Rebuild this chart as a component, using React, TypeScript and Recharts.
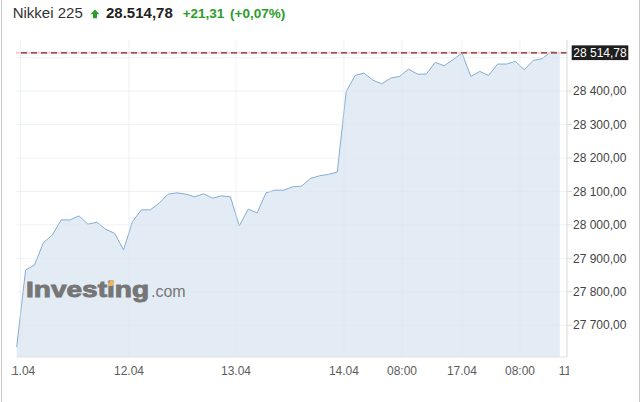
import { Area, AreaChart, ReferenceLine, XAxis, YAxis } from "recharts";

// Nikkei 225, one value per bar
const prices = [
  27635, 27865, 27880, 27947, 27970, 28015, 28015, 28027, 28002, 28008, 27987, 27975, 27925, 28010, 28045, 28045,
  28065, 28092, 28096, 28092, 28084, 28093, 28080, 28087, 28084, 27997, 28047, 28036, 28096, 28104, 28104, 28114,
  28116, 28139, 28147, 28151, 28158, 28398, 28447, 28454, 28433, 28422, 28439, 28444, 28466, 28451, 28451, 28486,
  28476, 28494, 28514, 28444, 28459, 28447, 28481, 28481, 28489, 28464, 28492, 28497, 28518, 28514.78,
];

const xTicks = [0.45, 12.61, 24.63, 36.75, 43.27, 50.0, 56.52, 62.5];
const xTickLabels = ["11.04", "12.04", "13.04", "14.04", "08:00", "17.04", "08:00", "11:00"];
const yTicks = [27700, 27800, 27900, 28000, 28100, 28200, 28300, 28400];
const yGrid = [...yTicks, 28500];
const lastPrice = 28514.78;
const change = "+21,31";
const changePct = "(+0,07%)";

const data = prices.map((v, i) => ({ i, v }));

const fmt = (v: number) => {
  const [int, dec] = v.toFixed(2).split(".");
  return int.replace(/\B(?=(\d{3})+(?!\d))/g, " ") + "," + dec;
};

const GRID = "#dfe5ec";
const GREEN = "#2a9d2a";

function XTick(props: any) {
  const { x, y, payload, index } = props;
  const idx = xTicks.indexOf(payload.value);
  return (
    <g>
      {index === 0 && (
        <defs>
          <clipPath id="xclip">
            <rect x={11.5} y={350} width={557.5} height={52} />
          </clipPath>
        </defs>
      )}
      <text x={x} y={y + 18} textAnchor="middle" fontSize={12} fill="#5c5c5c" clipPath="url(#xclip)">
        {xTickLabels[idx]}
      </text>
    </g>
  );
}

function PriceTag(props: any) {
  const vb = props.viewBox;
  const x = vb.x + vb.width + 4.7;
  const y = vb.y;
  return (
    <g>
      <rect x={x} y={y - 7.4} width={56.6} height={14.7} fill="#1e1e1e" />
      <text x={x + 28.3} y={y + 4.3} textAnchor="middle" fontSize={12} fill="#fff">
        {fmt(lastPrice)}
      </text>
    </g>
  );
}

export default function App() {
  return (
    <div
      style={{
        position: "absolute",
        left: 0,
        top: 0,
        width: 643,
        height: 402,
        background: "#fff",
        fontFamily: "Arial, 'Liberation Sans', sans-serif",
      }}
    >
      <AreaChart width={643} height={402} data={data} margin={{ top: 40, right: 0, bottom: 0, left: 16.7 }}>
        <XAxis
          type="number"
          dataKey="i"
          domain={[0, 61.8]}
          ticks={xTicks}
          interval={0}
          tickLine={false}
          tickSize={0}
          tickMargin={0}
          height={45}
          axisLine={{ stroke: "#e2e2e2" }}
          tick={<XTick />}
        />
        <YAxis
          orientation="right"
          width={76}
          domain={[27605, 28553]}
          ticks={yTicks}
          interval={0}
          tickFormatter={fmt}
          tickSize={5}
          tickMargin={1}
          tickLine={{ stroke: "#dcdcdc" }}
          axisLine={{ stroke: "#d9d9d9" }}
          tick={{ fontSize: 12, fill: "#444" }}
        />
        <Area
          type="linear"
          dataKey="v"
          stroke="#86acd1"
          strokeWidth={1}
          fill="#e3ecf5"
          fillOpacity={1}
          dot={false}
          activeDot={false}
          isAnimationActive={false}
        />
        {yGrid.map((t) => (
          <ReferenceLine key={"h" + t} y={t} stroke={GRID} strokeOpacity={0.55} />
        ))}
        {xTicks.map((t) => (
          <ReferenceLine key={"v" + t} x={t} stroke={GRID} strokeOpacity={0.55} />
        ))}
        <ReferenceLine y={lastPrice} stroke="#f4d2d2" strokeWidth={2} />
        <ReferenceLine y={lastPrice} stroke="#6e3030" strokeWidth={1.2} strokeDasharray="6 4" label={<PriceTag />} />
      </AreaChart>

      <svg
        width={643}
        height={402}
        style={{ position: "absolute", left: 0, top: 0, pointerEvents: "none" }}
      >
        <line x1={1.5} y1={0} x2={1.5} y2={402} stroke="#c8c8c8" />
        <line x1={639.5} y1={0} x2={639.5} y2={402} stroke="#c8c8c8" />

        <text x={12.7} y={18.3} fontSize={15} fill="#333">
          Nikkei 225
        </text>
        <polygon points="95,9.5 99.4,14.2 97,14.2 97,18.3 93,18.3 93,14.2 90.6,14.2" fill={GREEN} />
        <text x={106} y={18.3} fontSize={15} fontWeight="bold" fill="#222">
          28.514,78
        </text>
        <text x={182.7} y={18.3} fontSize={13.5} fontWeight="bold" fill={GREEN}>
          {change}
        </text>
        <text x={230} y={18.3} fontSize={13.5} fontWeight="bold" fill={GREEN}>
          {changePct}
        </text>

        <text
          x={26}
          y={296.7}
          fontSize={22}
          fontWeight="bold"
          fill="#767676"
          stroke="#767676"
          strokeWidth={0.9}
          textLength={123}
          lengthAdjust="spacingAndGlyphs"
        >
          Investing
        </text>
        <polygon points="110,280.5 114.5,280.5 112.5,286 108,286" fill="#f3b55c" />
        <text x={151} y={296.7} fontSize={16} fill="#767676">
          .com
        </text>
      </svg>
    </div>
  );
}
